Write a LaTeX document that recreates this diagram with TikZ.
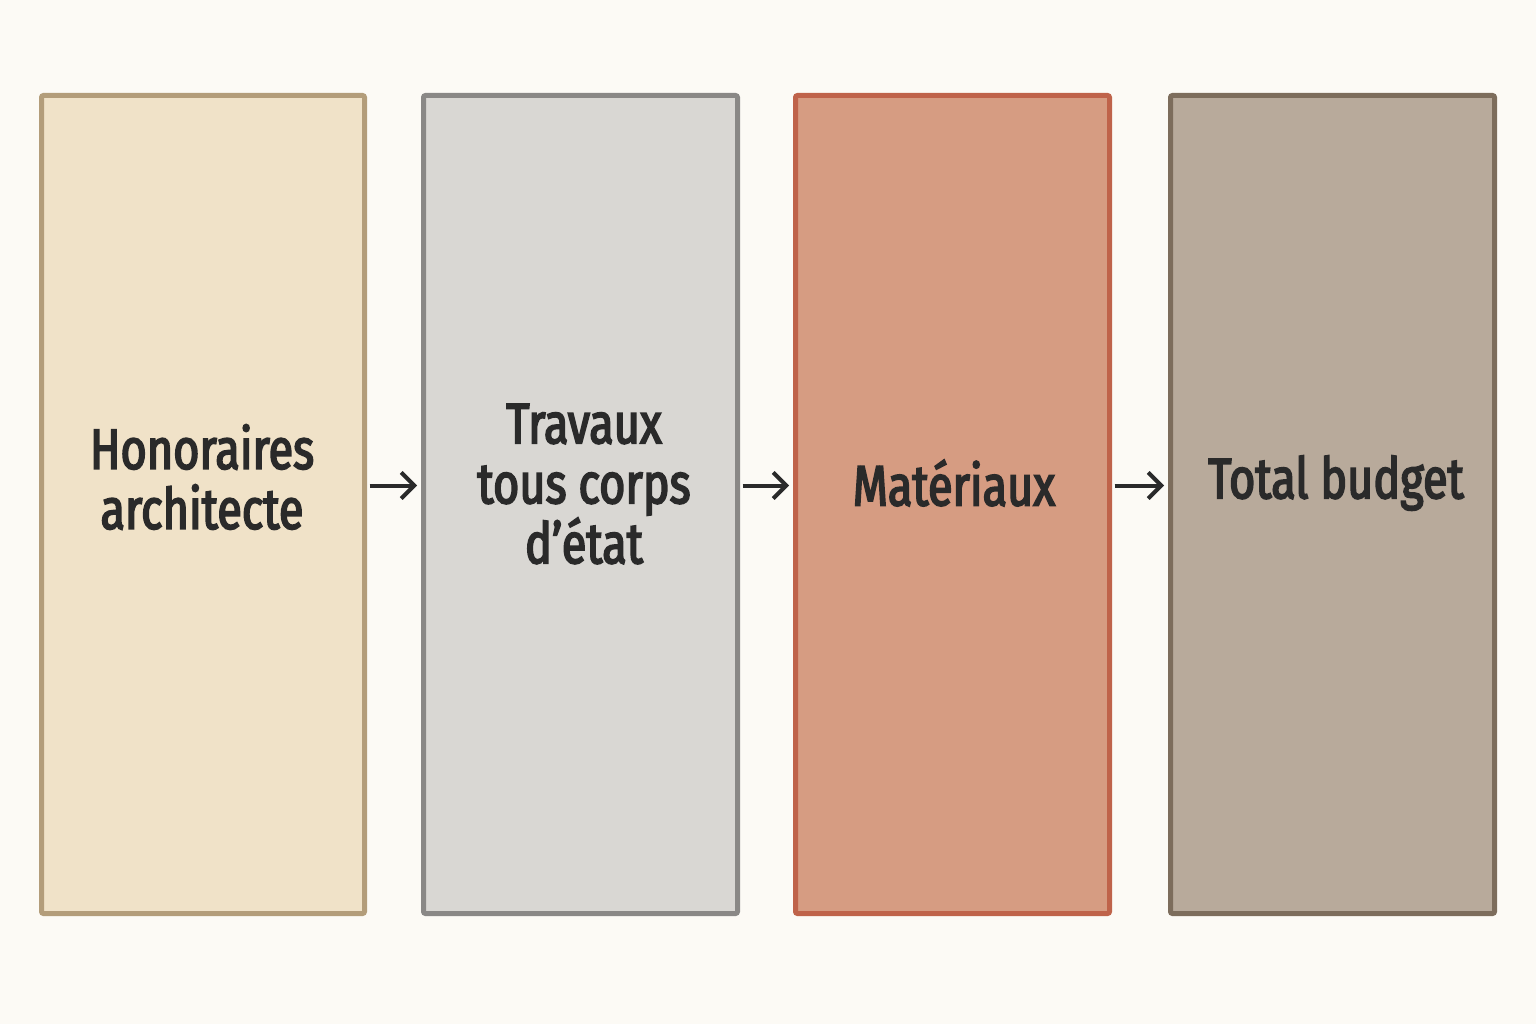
\documentclass[tikz,border=0pt]{standalone}
\usepackage{fontspec}
\setmainfont{Fira Sans}
\newfontfamily\lblfont{Fira Sans}[FakeStretch=0.79,FakeBold=3]
\usetikzlibrary{arrows.meta}
\definecolor{bg}{HTML}{FCFAF5}
\definecolor{fA}{HTML}{F0E2C8}\definecolor{dA}{HTML}{B39D7A}
\definecolor{fB}{HTML}{D9D7D3}\definecolor{dB}{HTML}{8A8886}
\definecolor{fC}{HTML}{D69C82}\definecolor{dC}{HTML}{BF634A}
\definecolor{fD}{HTML}{B8AA9B}\definecolor{dD}{HTML}{7D6D5C}
\definecolor{ink}{HTML}{2A2A2A}
\tikzset{
 box/.style={rectangle, rounded corners=2pt, line width=5pt, minimum height=818pt, inner sep=0pt},
 lbl/.style={align=center, text=ink, font=\lblfont\fontsize{57}{60}\selectfont},
 arr/.style={line width=4pt, draw=ink, -{Straight Barb[length=13pt,width=26pt,line width=4pt]}}
}
\begin{document}
\begin{tikzpicture}[x=1pt,y=-1pt]
\useasboundingbox[fill=bg] (0,0) rectangle (1536,1024);
\node[box, fill=fA, draw=dA, minimum width=323pt] (b1) at (203,504.5) {};
\node[box, fill=fB, draw=dB, minimum width=314pt] (b2) at (580.5,504.5) {};
\node[box, fill=fC, draw=dC, minimum width=314pt] (b3) at (952.5,504.5) {};
\node[box, fill=fD, draw=dD, minimum width=324pt] (b4) at (1332.5,504.5) {};
\node[lbl] (t1) at (202,477) {Honoraires\\architecte};
\node[lbl] (t2) at (584,484) {Travaux\\tous corps\\d’état};
\node[lbl] (t3) at (954,483) {Matériaux};
\node[lbl] (t4) at (1336,483) {Total budget};
\draw[arr] ([yshift=19pt,xshift=2.5pt]b1.east) -- ([yshift=19pt,xshift=-4pt]b2.west);
\draw[arr] ([yshift=19pt,xshift=2.5pt]b2.east) -- ([yshift=19pt,xshift=-4pt]b3.west);
\draw[arr] ([yshift=19pt,xshift=2.5pt]b3.east) -- ([yshift=19pt,xshift=-4pt]b4.west);
\end{tikzpicture}
\end{document}
